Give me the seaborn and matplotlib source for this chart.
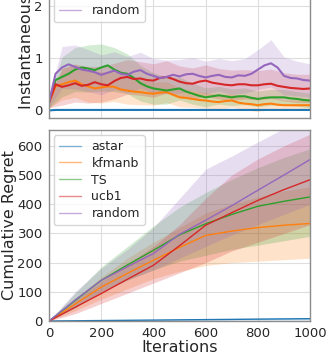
import numpy as np
import pandas as pd
import seaborn as sns
import matplotlib
matplotlib.use("Agg")
import matplotlib.pyplot as plt

algos = ["astar", "kfmanb", "TS", "ucb1", "random"]
colors = ["tab:blue", "tab:orange", "tab:green", "tab:red", "tab:purple"]

# instantaneous regret, read every 25 iterations
inst_iters = list(range(0, 1001, 25))
inst_astar = [0.0, 0.01, 0.01, 0.01, 0.01, 0.01, 0.01, 0.01, 0.01, 0.01, 0.01,
              0.01, 0.01, 0.01, 0.01, 0.01, 0.01, 0.01, 0.01, 0.01, 0.01,
              0.01, 0.01, 0.01, 0.01, 0.01, 0.01, 0.01, 0.01, 0.01, 0.01,
              0.01, 0.01, 0.01, 0.01, 0.01, 0.01, 0.01, 0.01, 0.01, 0.01]
inst_kfmanb = [0.15, 0.46, 0.50, 0.54, 0.57, 0.50, 0.46, 0.42, 0.44, 0.46, 0.45,
               0.40, 0.38, 0.36, 0.35, 0.33, 0.32, 0.34, 0.35, 0.30, 0.25,
               0.24, 0.22, 0.20, 0.19, 0.17, 0.16, 0.18, 0.19, 0.15, 0.13,
               0.12, 0.10, 0.12, 0.13, 0.11, 0.10, 0.10, 0.10, 0.10, 0.10]
inst_ts = [0.15, 0.58, 0.64, 0.70, 0.78, 0.82, 0.80, 0.77, 0.82, 0.86, 0.78,
           0.72, 0.70, 0.62, 0.52, 0.46, 0.42, 0.40, 0.38, 0.40, 0.42,
           0.36, 0.32, 0.28, 0.25, 0.27, 0.29, 0.27, 0.25, 0.27, 0.27,
           0.24, 0.22, 0.24, 0.25, 0.25, 0.25, 0.23, 0.22, 0.20, 0.19]
inst_ucb1 = [0.15, 0.50, 0.45, 0.48, 0.52, 0.47, 0.49, 0.54, 0.50, 0.48, 0.56,
             0.62, 0.64, 0.60, 0.61, 0.58, 0.57, 0.62, 0.64, 0.60, 0.55,
             0.52, 0.51, 0.55, 0.57, 0.53, 0.51, 0.49, 0.48, 0.50, 0.50,
             0.48, 0.48, 0.50, 0.51, 0.47, 0.45, 0.43, 0.42, 0.41, 0.42]
inst_random = [0.15, 0.70, 0.82, 0.88, 0.83, 0.78, 0.76, 0.73, 0.68, 0.72, 0.76,
               0.70, 0.68, 0.74, 0.77, 0.70, 0.66, 0.62, 0.64, 0.68, 0.65,
               0.69, 0.70, 0.66, 0.63, 0.66, 0.68, 0.64, 0.63, 0.67, 0.66,
               0.70, 0.78, 0.86, 0.90, 0.82, 0.66, 0.62, 0.61, 0.58, 0.57]
# half-width of the shaded band, every 50 iterations
inst_hw_astar = [0.0] + [0.01] * 20
inst_hw_kfmanb = [0.1, 0.30, 0.32, 0.30, 0.30, 0.28, 0.26, 0.24, 0.22, 0.20, 0.18,
                  0.16, 0.15, 0.14, 0.13, 0.12, 0.12, 0.11, 0.10, 0.10, 0.10]
inst_hw_ts = [0.1, 0.38, 0.42, 0.45, 0.45, 0.42, 0.38, 0.34, 0.30, 0.26, 0.22,
              0.20, 0.18, 0.17, 0.16, 0.16, 0.15, 0.15, 0.15, 0.14, 0.14]
inst_hw_ucb1 = [0.1, 0.35, 0.36, 0.35, 0.34, 0.34, 0.33, 0.32, 0.32, 0.31, 0.30,
                0.30, 0.30, 0.29, 0.29, 0.28, 0.28, 0.28, 0.27, 0.27, 0.27]
inst_hw_random = [0.1, 0.40, 0.42, 0.40, 0.38, 0.36, 0.35, 0.34, 0.33, 0.32, 0.32,
                  0.31, 0.31, 0.31, 0.32, 0.33, 0.38, 0.45, 0.36, 0.33, 0.32]

# cumulative regret, read every 100 iterations
cum_iters = list(range(0, 1001, 100))
cum_astar = [0, 0.8, 1.6, 2.4, 3.2, 4.0, 4.8, 5.6, 6.4, 7.2, 8.0]
cum_kfmanb = [0, 58, 116, 163, 208, 252, 293, 308, 320, 328, 334]
cum_ts = [0, 70, 139, 192, 242, 295, 333, 365, 393, 410, 425]
cum_ucb1 = [0, 47, 94, 143, 191, 258, 328, 371, 413, 450, 484]
cum_random = [0, 72, 139, 186, 231, 297, 345, 395, 448, 500, 553]

cum_lo_astar = [0, 0.3, 0.6, 1.0, 1.4, 1.8, 2.2, 2.6, 3.0, 3.4, 3.8]
cum_hi_astar = [0, 1.3, 2.6, 3.8, 5.0, 6.2, 7.4, 8.6, 9.8, 11.0, 12.2]
cum_lo_kfmanb = [0, 35, 75, 110, 145, 170, 190, 200, 205, 210, 215]
cum_hi_kfmanb = [0, 75, 150, 215, 270, 320, 370, 400, 425, 445, 460]
cum_lo_ts = [0, 45, 100, 140, 175, 205, 225, 245, 260, 275, 290]
cum_hi_ts = [0, 95, 185, 255, 325, 390, 440, 485, 525, 560, 590]
cum_lo_ucb1 = [0, 25, 60, 95, 130, 165, 200, 240, 270, 300, 330]
cum_hi_ucb1 = [0, 70, 135, 195, 255, 330, 420, 500, 555, 600, 640]
cum_lo_random = [0, 50, 100, 140, 175, 215, 255, 295, 330, 365, 400]
cum_hi_random = [0, 100, 180, 245, 320, 420, 520, 565, 613, 660, 710]

inst_means = [inst_astar, inst_kfmanb, inst_ts, inst_ucb1, inst_random]
inst_hws = [inst_hw_astar, inst_hw_kfmanb, inst_hw_ts, inst_hw_ucb1, inst_hw_random]
cum_means = [cum_astar, cum_kfmanb, cum_ts, cum_ucb1, cum_random]
cum_los = [cum_lo_astar, cum_lo_kfmanb, cum_lo_ts, cum_lo_ucb1, cum_lo_random]
cum_his = [cum_hi_astar, cum_hi_kfmanb, cum_hi_ts, cum_hi_ucb1, cum_hi_random]

sns.set_style("whitegrid")
plt.rcParams['font.family'] = ['DejaVu Sans']

fig = plt.figure(figsize=(3.31, 3.59), dpi=100)
ax_top = fig.add_axes([0.148, 0.6713, 0.789, 0.532])
ax_bot = fig.add_axes([0.148, 0.1058, 0.789, 0.532])

inst_df = pd.concat([pd.DataFrame({'iter': inst_iters, 'regret': m, 'algo': a})
                     for a, m in zip(algos, inst_means)])
cum_df = pd.concat([pd.DataFrame({'iter': cum_iters, 'regret': m, 'algo': a})
                    for a, m in zip(algos, cum_means)])

# shaded bands
band_iters = inst_iters[::2]
for m, hw, c in zip(inst_means, inst_hws, colors):
    m2 = np.array(m[::2])
    hw = np.array(hw)
    ax_top.fill_between(band_iters, m2 - hw, m2 + hw, color=c, alpha=0.2, lw=0)
for lo, hi, c in zip(cum_los, cum_his, colors):
    ax_bot.fill_between(cum_iters, lo, hi, color=c, alpha=0.22, lw=0)

sns.lineplot(data=inst_df, x='iter', y='regret', hue='algo', hue_order=algos,
             palette=colors, lw=1.5, ax=ax_top)
sns.lineplot(data=cum_df, x='iter', y='regret', hue='algo', hue_order=algos,
             palette=colors, lw=1.0, ax=ax_bot)

for ax in [ax_top, ax_bot]:
    ax.set_xlim(0, 1000)
    ax.set_xticks([0, 200, 400, 600, 800, 1000])
    ax.tick_params(labelsize=9.5, pad=1)
    for s in ax.spines.values():
        s.set_color('0.55')
        s.set_linewidth(1.0)
    ax.grid(color='0.87', lw=0.8)
    leg = ax.legend(loc='upper left', fontsize=9, framealpha=0.8,
                    labelspacing=0.3, borderaxespad=0.4, handlelength=1.8)
    for h in leg.get_lines():
        h.set_alpha(0.55)
        h.set_linewidth(1.0)

ax_top.set_ylim(-0.144, 3.5)
ax_top.set_yticks([0, 1, 2, 3])
ax_top.set_xticklabels([])
ax_top.set_xlabel('')
ax_top.set_ylabel('Instantaneous Regret', fontsize=11.5, labelpad=0)

ax_bot.set_ylim(0, 654)
ax_bot.set_yticks([0, 100, 200, 300, 400, 500, 600])
ax_bot.set_xlabel('Iterations', fontsize=11.5, labelpad=0)
ax_bot.set_ylabel('Cumulative Regret', fontsize=11.5, labelpad=0)

fig.savefig('out.png', dpi=100)
